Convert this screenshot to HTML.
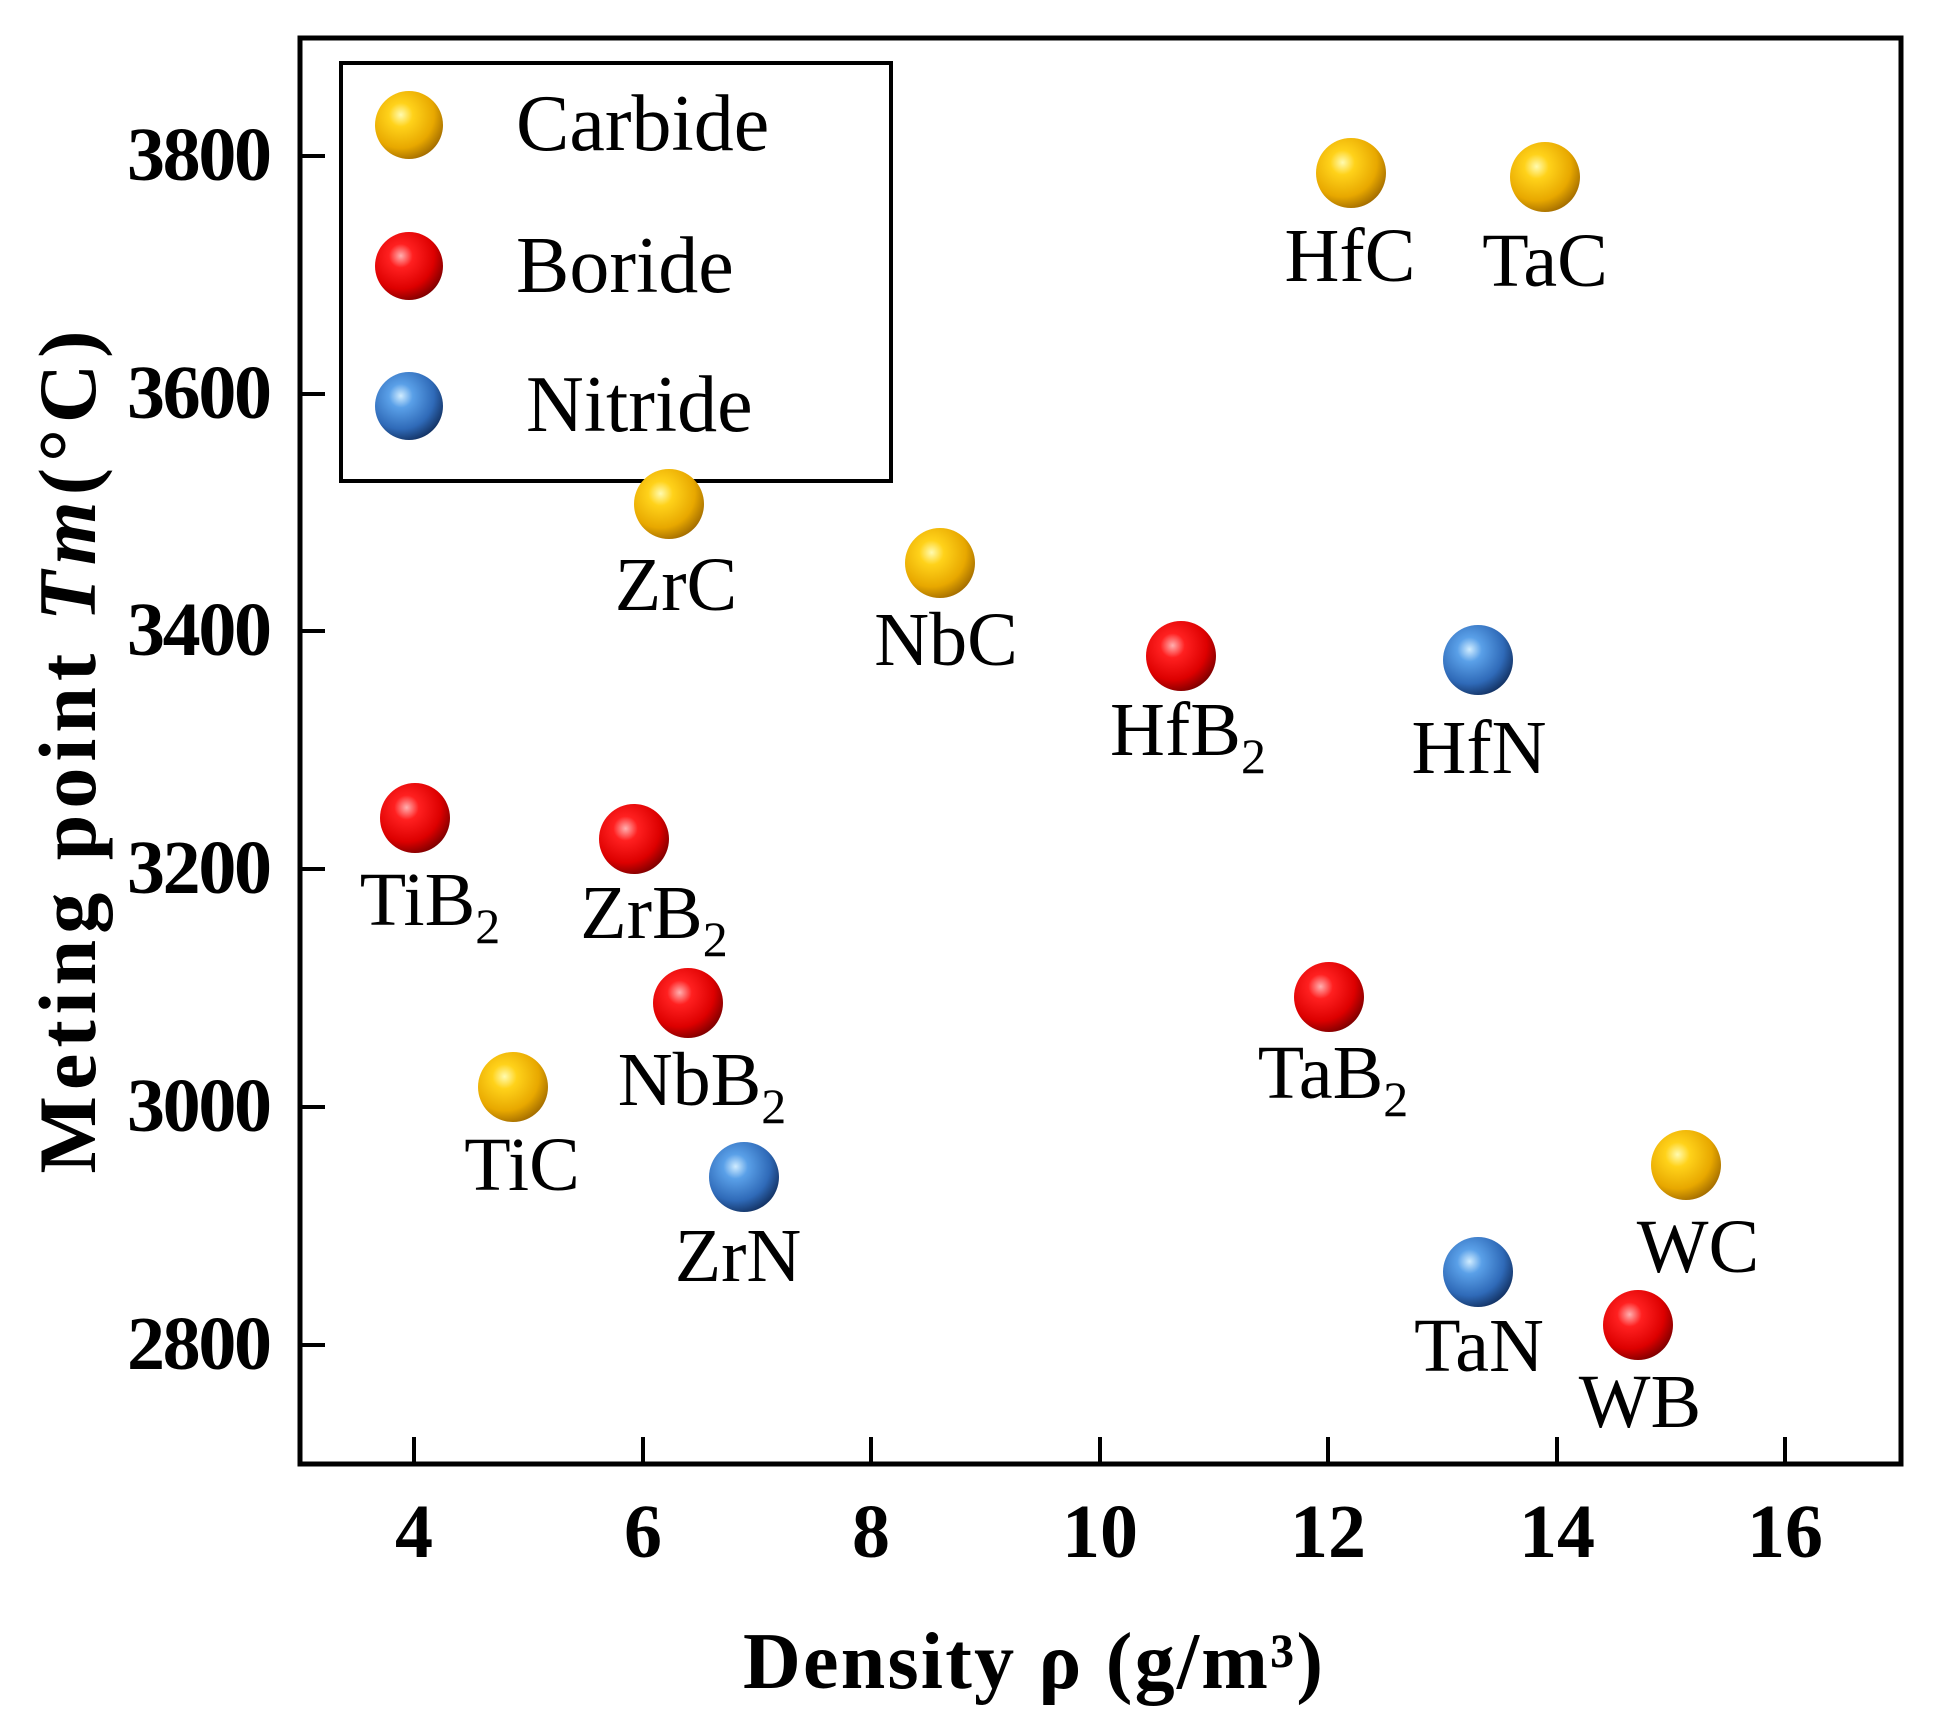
<!DOCTYPE html>
<html><head><meta charset="utf-8"><style>
html,body{margin:0;padding:0;background:#fff;}
svg{display:block;}
text{font-family:"Liberation Serif",serif;fill:#000;}
</style></head><body>
<svg width="1941" height="1725" viewBox="0 0 1941 1725" xmlns="http://www.w3.org/2000/svg">
<defs>
<radialGradient id="gold" cx="0.38" cy="0.35" r="0.7">
<stop offset="0" stop-color="#fffbb0"/><stop offset="0.25" stop-color="#ffd21a"/><stop offset="0.7" stop-color="#e8a800"/><stop offset="1" stop-color="#a06a00"/></radialGradient>
<radialGradient id="red" cx="0.38" cy="0.35" r="0.7">
<stop offset="0" stop-color="#ffb0b0"/><stop offset="0.25" stop-color="#ff2020"/><stop offset="0.7" stop-color="#dd0000"/><stop offset="1" stop-color="#7a0000"/></radialGradient>
<radialGradient id="blue" cx="0.38" cy="0.35" r="0.7">
<stop offset="0" stop-color="#d0ecff"/><stop offset="0.25" stop-color="#5aa0e8"/><stop offset="0.7" stop-color="#2f6ab8"/><stop offset="1" stop-color="#123060"/></radialGradient>
</defs>
<rect x="300" y="38" width="1601" height="1426" fill="none" stroke="#000" stroke-width="5"/>
<g stroke="#000" stroke-width="4">
<line x1="414" y1="1462" x2="414" y2="1437"/><line x1="643" y1="1462" x2="643" y2="1437"/><line x1="871" y1="1462" x2="871" y2="1437"/><line x1="1100" y1="1462" x2="1100" y2="1437"/><line x1="1328" y1="1462" x2="1328" y2="1437"/><line x1="1557" y1="1462" x2="1557" y2="1437"/><line x1="1785" y1="1462" x2="1785" y2="1437"/>
<line x1="302" y1="156" x2="325" y2="156"/><line x1="302" y1="394" x2="325" y2="394"/><line x1="302" y1="631" x2="325" y2="631"/><line x1="302" y1="869" x2="325" y2="869"/><line x1="302" y1="1107" x2="325" y2="1107"/><line x1="302" y1="1345" x2="325" y2="1345"/>
</g>
<g font-weight="bold" font-size="76" text-anchor="middle">
<text x="414" y="1557">4</text><text x="643" y="1557">6</text><text x="871" y="1557">8</text><text x="1100" y="1557">10</text><text x="1328" y="1557">12</text><text x="1557" y="1557">14</text><text x="1785" y="1557">16</text>
</g>
<g font-weight="bold" font-size="76" text-anchor="end">
<text x="272" y="180" textLength="145">3800</text><text x="272" y="418" textLength="145">3600</text><text x="272" y="655" textLength="145">3400</text><text x="272" y="893" textLength="145">3200</text><text x="272" y="1131" textLength="145">3000</text><text x="272" y="1369" textLength="145">2800</text>
</g>
<text x="1033" y="1688" font-weight="bold" font-size="80" text-anchor="middle" textLength="580">Density ρ (g/m³)</text>
<text transform="translate(95,752) rotate(-90)" font-weight="bold" font-size="82" text-anchor="middle" textLength="843">Meting point <tspan font-style="italic">Tm</tspan>(°C)</text>
<rect x="341" y="63" width="550" height="418" fill="#fff" stroke="#000" stroke-width="4"/>
<circle cx="409" cy="125" r="34" fill="url(#gold)"/>
<circle cx="409" cy="266" r="34" fill="url(#red)"/>
<circle cx="409" cy="406" r="34" fill="url(#blue)"/>
<g font-size="80">
<text x="516" y="150">Carbide</text><text x="516" y="292">Boride</text><text x="526" y="431">Nitride</text>
</g>
<g>
<circle cx="1351" cy="173" r="35" fill="url(#gold)"/>
<circle cx="1545" cy="177" r="35" fill="url(#gold)"/>
<circle cx="669" cy="504" r="35" fill="url(#gold)"/>
<circle cx="940" cy="563" r="35" fill="url(#gold)"/>
<circle cx="513" cy="1087" r="35" fill="url(#gold)"/>
<circle cx="1686" cy="1165" r="35" fill="url(#gold)"/>
<circle cx="1181" cy="656" r="35" fill="url(#red)"/>
<circle cx="415" cy="818" r="35" fill="url(#red)"/>
<circle cx="634" cy="839" r="35" fill="url(#red)"/>
<circle cx="688" cy="1003" r="35" fill="url(#red)"/>
<circle cx="1329" cy="997" r="35" fill="url(#red)"/>
<circle cx="1638" cy="1325" r="35" fill="url(#red)"/>
<circle cx="1478" cy="660" r="35" fill="url(#blue)"/>
<circle cx="744" cy="1177" r="35" fill="url(#blue)"/>
<circle cx="1478" cy="1272" r="35" fill="url(#blue)"/>
</g>
<g font-size="76" text-anchor="middle">
<text x="1350" y="281">HfC</text>
<text x="1545" y="286">TaC</text>
<text x="676" y="610">ZrC</text>
<text x="946" y="665">NbC</text>
<text x="1188" y="755">HfB<tspan font-size="50" dy="18">2</tspan></text>
<text x="1479" y="773">HfN</text>
<text x="430" y="925">TiB<tspan font-size="50" dy="18">2</tspan></text>
<text x="654" y="938">ZrB<tspan font-size="50" dy="18">2</tspan></text>
<text x="702" y="1105">NbB<tspan font-size="50" dy="18">2</tspan></text>
<text x="1333" y="1098">TaB<tspan font-size="50" dy="18">2</tspan></text>
<text x="522" y="1190">TiC</text>
<text x="738" y="1281">ZrN</text>
<text x="1698" y="1272">WC</text>
<text x="1479" y="1371">TaN</text>
<text x="1640" y="1427">WB</text>
</g>
</svg>
</body></html>
